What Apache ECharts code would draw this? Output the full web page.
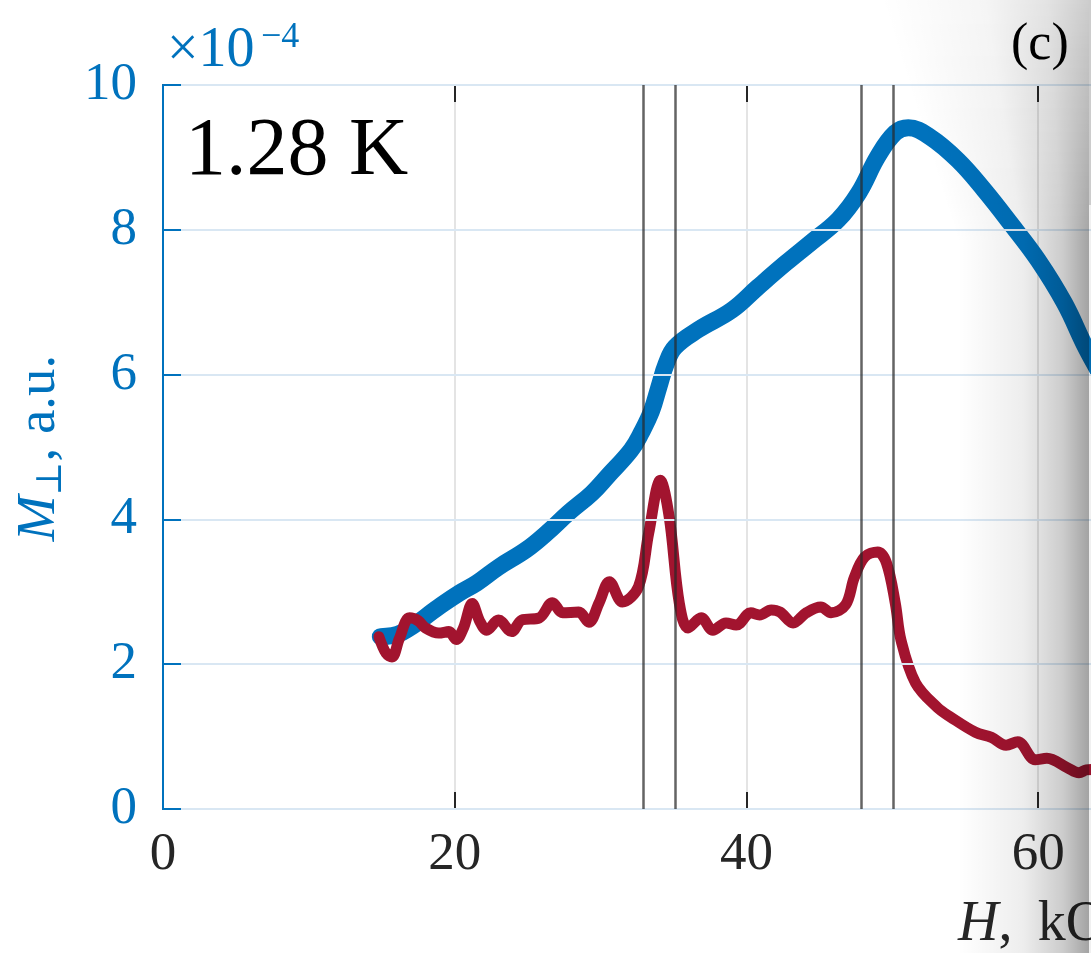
<!DOCTYPE html>
<html>
<head>
<meta charset="utf-8">
<script src="https://cdn.jsdelivr.net/npm/echarts@6/dist/echarts.min.js"></script>
<style>
html,body{margin:0;padding:0;background:#fff;overflow:hidden;width:1091px;height:953px;}
#chart{width:1187px;height:953px;}
</style>
</head>
<body>
<div id="chart"></div>
<script>
// Data (M in units of 1e-4, H in kOe)
const hBlue = [14.9, 16.4, 18.9, 20.3, 21.5, 23.0, 24.9, 26.3, 27.8, 29.4, 30.5, 32.1, 32.8, 33.5, 34.0, 34.5, 35.1, 36.7, 39.0, 40.8, 42.7, 44.4, 46.3, 47.7, 49.0, 50.2, 51.1, 52.6, 54.5, 56.3, 58.1, 60.0, 61.8, 63.2, 64.5, 66.0];
const mBlue = [2.38, 2.44, 2.79, 2.98, 3.12, 3.34, 3.58, 3.81, 4.09, 4.36, 4.60, 4.96, 5.20, 5.50, 5.83, 6.15, 6.38, 6.62, 6.89, 7.21, 7.54, 7.82, 8.14, 8.51, 9.01, 9.34, 9.41, 9.28, 8.96, 8.55, 8.09, 7.58, 6.99, 6.40, 5.90, 5.20];
const hRed = [14.8, 15.3, 15.7, 16.2, 16.9, 17.5, 18.0, 18.9, 19.6, 20.1, 20.6, 21.2, 21.7, 22.2, 23.0, 23.9, 24.6, 25.8, 26.7, 27.4, 28.5, 29.2, 29.9, 30.6, 31.5, 32.6, 33.3, 34.1, 34.7, 35.4, 36.0, 36.9, 37.7, 38.6, 39.3, 40.3, 40.9, 41.7, 42.3, 43.2, 44.1, 45.1, 45.8, 46.8, 47.4, 48.1, 49.0, 49.6, 50.2, 50.6, 51.6, 53.1, 54.0, 55.7, 56.8, 57.8, 58.6, 59.8, 60.6, 62.0, 62.8, 63.3, 64.2, 65.5];
const mRed = [2.38, 2.15, 2.10, 2.35, 2.64, 2.60, 2.50, 2.43, 2.45, 2.34, 2.50, 2.84, 2.60, 2.47, 2.61, 2.45, 2.61, 2.64, 2.85, 2.71, 2.72, 2.58, 2.85, 3.14, 2.86, 3.07, 3.81, 4.54, 4.04, 2.84, 2.50, 2.64, 2.47, 2.57, 2.54, 2.71, 2.68, 2.75, 2.72, 2.57, 2.71, 2.79, 2.71, 2.82, 3.20, 3.48, 3.55, 3.40, 2.85, 2.33, 1.74, 1.40, 1.27, 1.06, 0.99, 0.88, 0.93, 0.68, 0.70, 0.57, 0.50, 0.54, 0.55, 0.45];
const xLines = [32.95, 35.15, 47.85, 50.05];
const xTicks = [0, 20, 40, 60];
const yTicks = [0, 2, 4, 6, 8, 10];

const BLUE = '#0072BD', RED = '#A2142F', AX = '#262626';
const FONT = '"Liberation Serif", "DejaVu Serif", serif';

const chart = echarts.init(document.getElementById('chart'), null, {renderer: 'canvas'});
const zip = (a, b) => a.map((v, i) => [v, b[i]]);

// page-curl shading on the right edge (decoration only)
const shade = [];
const STEP = 4, TOPH = 240, RIGHT = 1089;
function band(y, h, x0, k) {
  return {type: 'rect', silent: true, z: 50,
    shape: {x: x0, y: y, width: RIGHT - x0, height: h},
    style: {fill: new echarts.graphic.LinearGradient(0, 0, 1, 0, [
      {offset: 0, color: 'rgba(0,0,0,0)'},
      {offset: 0.5, color: 'rgba(0,0,0,' + (0.07 * k).toFixed(3) + ')'},
      {offset: 0.8, color: 'rgba(0,0,0,' + (0.2 * k).toFixed(3) + ')'},
      {offset: 1, color: 'rgba(0,0,0,' + (0.36 * k).toFixed(3) + ')'}])}};
}
for (let y = 0; y < TOPH; y += STEP) {
  const t = y / TOPH;
  shade.push(band(y, STEP, 880 + 78 * t, 0.55 + 0.45 * t));
}
shade.push(band(TOPH, 953 - TOPH, 958, 1));
shade.push({type: 'rect', silent: true, z: 50,
  shape: {x: RIGHT, y: 0, width: 3, height: 205}, style: {fill: 'rgba(0,0,0,0.2)'}});
shade.push({type: 'rect', silent: true, z: 50,
  shape: {x: RIGHT, y: 205, width: 3, height: 748}, style: {fill: 'rgba(0,0,0,0.06)'}});

chart.setOption({
  animation: false,
  backgroundColor: '#ffffff',
  grid: {left: 163, top: 85, bottom: 144, right: 0, containLabel: false},
  xAxis: [{
    type: 'value', min: 0, max: 70, interval: 20, position: 'bottom',
    axisLine: {show: true, onZero: false, lineStyle: {color: AX, width: 2}},
    axisTick: {show: true, inside: true, length: 17, lineStyle: {color: AX, width: 2}},
    axisLabel: {color: AX, fontFamily: FONT, fontSize: 53, margin: 20,
      formatter: v => xTicks.includes(v) ? String(v) : ''},
    splitLine: {show: true, lineStyle: {color: '#e4e4e4', width: 2}}
  }, {
    type: 'value', min: 0, max: 70, interval: 20, position: 'top',
    axisLine: {show: true, onZero: false, lineStyle: {color: AX, width: 2}},
    axisTick: {show: true, inside: true, length: 17, lineStyle: {color: AX, width: 2}},
    axisLabel: {show: false}, splitLine: {show: false}
  }],
  yAxis: [{
    type: 'value', min: 0, max: 10, interval: 2, position: 'left', z: 5,
    axisLine: {show: true, onZero: false, lineStyle: {color: BLUE, width: 2}},
    axisTick: {show: true, inside: true, length: 18, lineStyle: {color: BLUE, width: 2}},
    axisLabel: {color: BLUE, fontFamily: FONT, fontSize: 53, margin: 26,
      formatter: v => yTicks.includes(v) ? String(v) : ''},
    splitLine: {show: true, lineStyle: {color: '#d9e7f3', width: 2}}
  }],
  series: [{
    type: 'line', name: 'M', data: zip(hBlue, mBlue), smooth: 0.4, showSymbol: false,
    lineStyle: {color: BLUE, width: 17, cap: 'round', join: 'round'}, z: 2
  }, {
    type: 'line', name: 'dM/dH', data: zip(hRed, mRed), smooth: 0.35, showSymbol: false,
    lineStyle: {color: RED, width: 11, cap: 'round', join: 'round'}, z: 3
  }, {
    type: 'line', data: [], z: 4,
    markLine: {silent: true, symbol: 'none', label: {show: false},
      lineStyle: {color: 'rgba(40,40,40,0.72)', width: 2.5, type: 'solid'},
      data: xLines.map(v => ({xAxis: v}))}
  }],
  graphic: [
    {type: 'text', left: 185, top: 111, z: 10,
      style: {text: '1.28 K', font: '82px ' + FONT, fill: '#000'}},
    {type: 'text', left: 1011, top: 19, z: 10,
      style: {text: '(c)', font: '52px ' + FONT, fill: '#000'}},
    {type: 'text', left: 167, top: 23, z: 10,
      style: {text: '×10', font: '56px ' + FONT, fill: BLUE}},
    {type: 'text', left: 261, top: 20, z: 10,
      style: {text: '−4', font: '36px ' + FONT, fill: BLUE}},
    {type: 'text', x: 40, y: 448, rotation: Math.PI / 2, z: 10,
      style: {
        text: '{m|M}{s|⊥}{n|, a.u.}', align: 'center', verticalAlign: 'middle',
        textAlign: 'center', textVerticalAlign: 'middle',
        rich: {
          m: {font: 'italic 55px ' + FONT, fill: BLUE, color: BLUE},
          s: {font: '36px ' + FONT, fill: BLUE, color: BLUE, padding: [24, 0, 0, 0]},
          n: {font: '55px ' + FONT, fill: BLUE, color: BLUE}
        }
      }},
    {type: 'text', left: 958, top: 897, z: 10,
      style: {text: '{h|H}{n|, \u2009kOe}', rich: {
        h: {font: 'italic 56px ' + FONT, fill: AX, color: AX},
        n: {font: '56px ' + FONT, fill: AX, color: AX}}}}
  ].concat(shade)
});
</script>
</body>
</html>
